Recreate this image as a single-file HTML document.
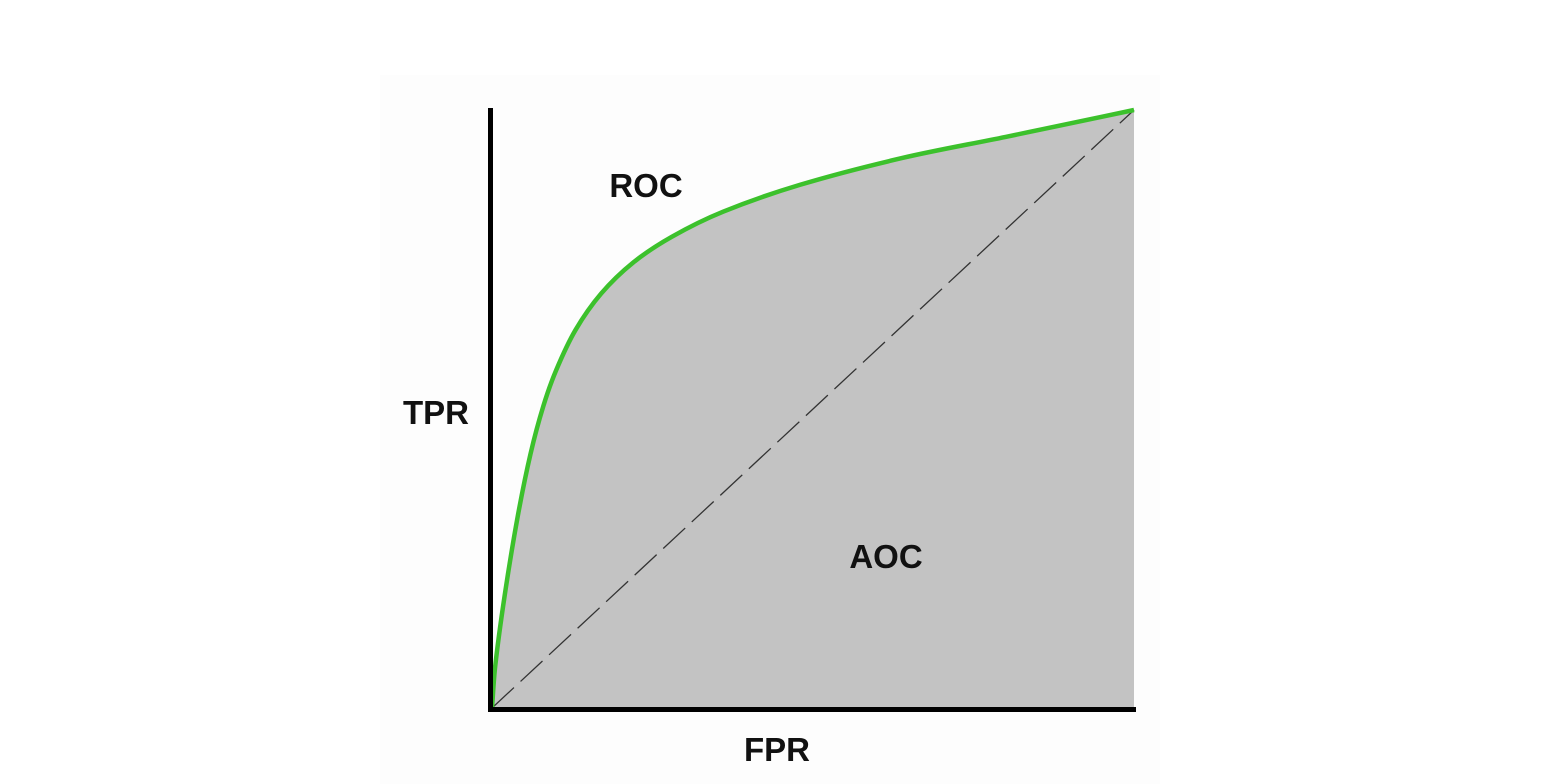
<!DOCTYPE html>
<html><head><meta charset="utf-8"><style>
html,body{margin:0;padding:0;background:#fff;}
svg{display:block;}
text{font-family:"Liberation Sans",sans-serif;font-weight:bold;font-size:33px;fill:#111;}
</style></head><body>
<svg id="chart" width="1556" height="784">
<rect x="380" y="75" width="780" height="709" fill="#fdfdfd"/>
<g id="plot"></g>
<text x="646" y="197" text-anchor="middle">ROC</text>
<text x="436" y="424" text-anchor="middle">TPR</text>
<text x="886" y="568" text-anchor="middle">AOC</text>
<text x="777" y="761" text-anchor="middle">FPR</text>
</svg>
<script>
const fpr = [0, 0.005, 0.020, 0.040, 0.060, 0.080, 0.100, 0.130, 0.170, 0.220, 0.280, 0.360, 0.480, 0.640, 0.800, 1];
const tpr = [0, 0.070, 0.190, 0.320, 0.425, 0.505, 0.565, 0.632, 0.693, 0.745, 0.788, 0.830, 0.875, 0.920, 0.955, 1];
const X0=492, X1=1134, Y0=708, Y1=110;
const sx = v => X0 + v*(X1-X0);
const sy = v => Y0 - v*(Y0-Y1);
const NS="http://www.w3.org/2000/svg";
const g=document.getElementById('plot');
function mk(tag, attrs){const e=document.createElementNS(NS,tag);for(const k in attrs)e.setAttribute(k,attrs[k]);g.appendChild(e);return e;}
const pts=fpr.map((f,i)=>[sx(f),sy(tpr[i])]);
let d=`M${pts[0][0]},${pts[0][1]}`;
const dist=(a,b)=>Math.hypot(a[0]-b[0],a[1]-b[1]);
for(let i=0;i<pts.length-1;i++){
  const p0=pts[Math.max(0,i-1)],p1=pts[i],p2=pts[i+1],p3=pts[Math.min(pts.length-1,i+2)];
  const L=dist(p1,p2);
  const t1=[p2[0]-p0[0],p2[1]-p0[1]], n1=Math.hypot(...t1)||1;
  const t2=[p3[0]-p1[0],p3[1]-p1[1]], n2=Math.hypot(...t2)||1;
  const c1=[p1[0]+t1[0]/n1*L/3,p1[1]+t1[1]/n1*L/3];
  const c2=[p2[0]-t2[0]/n2*L/3,p2[1]-t2[1]/n2*L/3];
  d+=` C${c1[0]},${c1[1]} ${c2[0]},${c2[1]} ${p2[0]},${p2[1]}`;
}
const area=mk('path',{d:d+` L${sx(1)},${sy(0)} L${sx(0)},${sy(0)} Z`,fill:'#c3c3c3'});


const diag=mk('line',{x1:sx(0),y1:sy(0),x2:sx(1),y2:sy(1),stroke:'#333','stroke-width':1.3,'stroke-dasharray':'30,9'});


const curve=mk('path',{d:d,fill:'none',stroke:'#3cc12c','stroke-width':4.5});


const ya=mk('rect',{x:488,y:108,width:5,height:604,fill:'#000'});


const xa=mk('rect',{x:488,y:707,width:648,height:5,fill:'#000'});


</script>
</body></html>
